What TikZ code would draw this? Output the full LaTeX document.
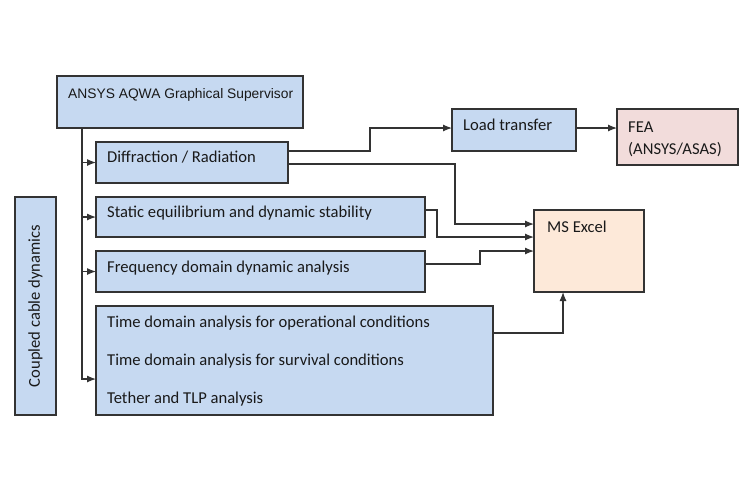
\documentclass[tikz,border=0pt]{standalone}
\usepackage{fontspec}
\setmainfont{Carlito}
\newfontfamily\arialf{Liberation Sans}
\usetikzlibrary{arrows.meta}
\definecolor{bluef}{HTML}{C6D9F1}
\definecolor{pinkf}{HTML}{F2DCDB}
\definecolor{peachf}{HTML}{FDE9D9}
\definecolor{edge}{HTML}{333333}
\begin{document}
\begin{tikzpicture}[x=1pt,y=-1pt,
  bx/.style={draw=edge,line width=1.4pt,fill=bluef,anchor=north west,inner sep=0pt,outer sep=0pt},
  txt/.style={anchor=west,inner sep=0pt,font=\fontsize{16.6}{18}\selectfont,text=black!90},
  ln/.style={draw=edge,line width=1.2pt},
  conn/.style={ln,-{Latex[length=9pt,width=7pt]}}]
\useasboundingbox[fill=white] (0,0) rectangle (755,499);
% boxes
\node[bx,minimum width=246pt,minimum height=52pt] (ansys) at (57,76) {};
\node[bx,minimum width=192pt,minimum height=41pt] (diff) at (96,142) {};
\node[bx,minimum width=329pt,minimum height=40pt] (stat) at (96,197) {};
\node[bx,minimum width=329pt,minimum height=41pt] (freq) at (96,251) {};
\node[bx,minimum width=397pt,minimum height=109pt] (time) at (96,306) {};
\node[bx,minimum width=41pt,minimum height=218pt] (coup) at (15,197) {};
\node[bx,minimum width=124pt,minimum height=42pt] (load) at (452,109) {};
\node[bx,fill=pinkf,minimum width=121pt,minimum height=56pt] (fea) at (617,109) {};
\node[bx,fill=peachf,minimum width=110pt,minimum height=82pt] (excel) at (534,210) {};
% texts
\node[anchor=west,inner sep=0pt,text=black!90,font=\arialf\fontsize{13.8}{15}\selectfont] (tansys) at (68,94.5) {ANSYS AQWA Graphical Supervisor};
\node[txt] (tdiff) at (107,157) {Diffraction / Radiation};
\node[txt] (tstat) at (107,213) {Static equilibrium and dynamic stability};
\node[txt] (tfreq) at (107,268) {Frequency domain dynamic analysis};
\node[txt] (ttime1) at (107,323) {Time domain analysis for operational conditions};
\node[txt] (ttime2) at (107,361) {Time domain analysis for survival conditions};
\node[txt] (ttime3) at (107,399) {Tether and TLP analysis};
\node[txt,anchor=center,rotate=90] (tcoup) at (35.5,306) {Coupled cable dynamics};
\node[txt] (tload) at (463,125) {Load transfer};
\node[txt] (tfea1) at (628,127) {FEA};
\node[txt] (tfea2) at (628,150) {(ANSYS/ASAS)};
\node[txt] (texcel) at (547,227) {MS Excel};
% trunk
\coordinate (tk) at (82,128);
\draw[ln] (tk) -- (82,379);
\draw[conn] (tk) |- (diff.west);
\draw[conn] (tk) |- (stat.west);
\draw[conn] (tk) |- (freq.west);
\draw[conn] (tk) |- ([yshift=-18.5pt]time.west);
% right connectors
\draw[conn] ([yshift=11.5pt]diff.east) -- ++(82,0) |- ([yshift=2pt]load.west);
\draw[conn] ([yshift=2pt]load.east) -- ([yshift=2pt]load.east -| fea.west);
\draw[conn] ([yshift=-1.5pt]diff.east) -- ++(167,0) |- ([yshift=27pt]excel.west);
\draw[conn] ([yshift=7pt]stat.east) -- ++(12,0) |- ([yshift=14pt]excel.west);
\draw[conn] ([yshift=7.5pt]freq.east) -- ++(55,0) |- (excel.west);
\draw[conn] ([yshift=27.5pt]time.east) -| ([xshift=-26pt]excel.south);
\end{tikzpicture}
\end{document}
